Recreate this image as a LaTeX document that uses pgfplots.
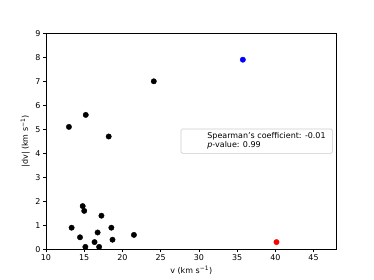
\documentclass[border=0pt]{standalone}
\usepackage{pgfplots}
\pgfplotsset{compat=1.18}
\usepackage{fontspec}
\setmainfont{DejaVu Sans}
\begin{document}
\fontsize{8}{9.6}\selectfont
\begin{tikzpicture}
\begin{axis}[
  at={(0,0)}, anchor=south west,
  scale only axis, width=290.5bp, height=216bp,
  xmin=10, xmax=48, ymin=0, ymax=9,
  xtick={10,15,...,45}, ytick={0,1,...,9},
  tick align=outside, tick pos=left,
  major tick length=2.8bp,
  every tick/.style={black, line width=0.6bp},
  axis line style={line width=0.6bp},
  /pgf/number format/assume math mode=true,
  ticklabel style={font=\fontsize{8}{9.6}\selectfont},
  label style={font=\fontsize{8}{9.6}\selectfont},
  xlabel={v (km s\textsuperscript{−1})},
  ylabel={|dv| (km s\textsuperscript{−1})},
  xlabel style={yshift=0bp},
  ylabel style={yshift=0bp},
]
\addplot[only marks, mark=*, mark size=2.7bp, black] coordinates {
(24.1,7.0) (15.2,5.6) (13.0,5.1) (18.2,4.7)
(14.8,1.8) (15.0,1.6) (17.25,1.4)
(13.35,0.9) (18.55,0.9) (16.75,0.7) (21.5,0.6)
(14.45,0.5) (18.7,0.4) (16.35,0.3) (15.15,0.1) (16.95,0.1)
};
\addplot[only marks, mark=*, mark size=2.7bp, blue] coordinates {(35.75,7.9)};
\addplot[only marks, mark=*, mark size=2.7bp, red] coordinates {(40.15,0.3)};
\draw[black!20, line width=0.6bp, rounded corners=1.5bp, fill=white, fill opacity=0.8]
  (rel axis cs:0.4647,0.444) rectangle (rel axis cs:0.9856,0.557);
\node[anchor=west, align=left, inner sep=0pt, font=\fontsize{8}{9.4}\selectfont]
  at (rel axis cs:0.555,0.503) {Spearman's coefficient: -0.01\\\textit{p}-value: 0.99};
\end{axis}
\pgfresetboundingbox
\path[use as bounding box] (-46bp,-30.7bp) rectangle (328bp,249.3bp);
\end{tikzpicture}
\end{document}
